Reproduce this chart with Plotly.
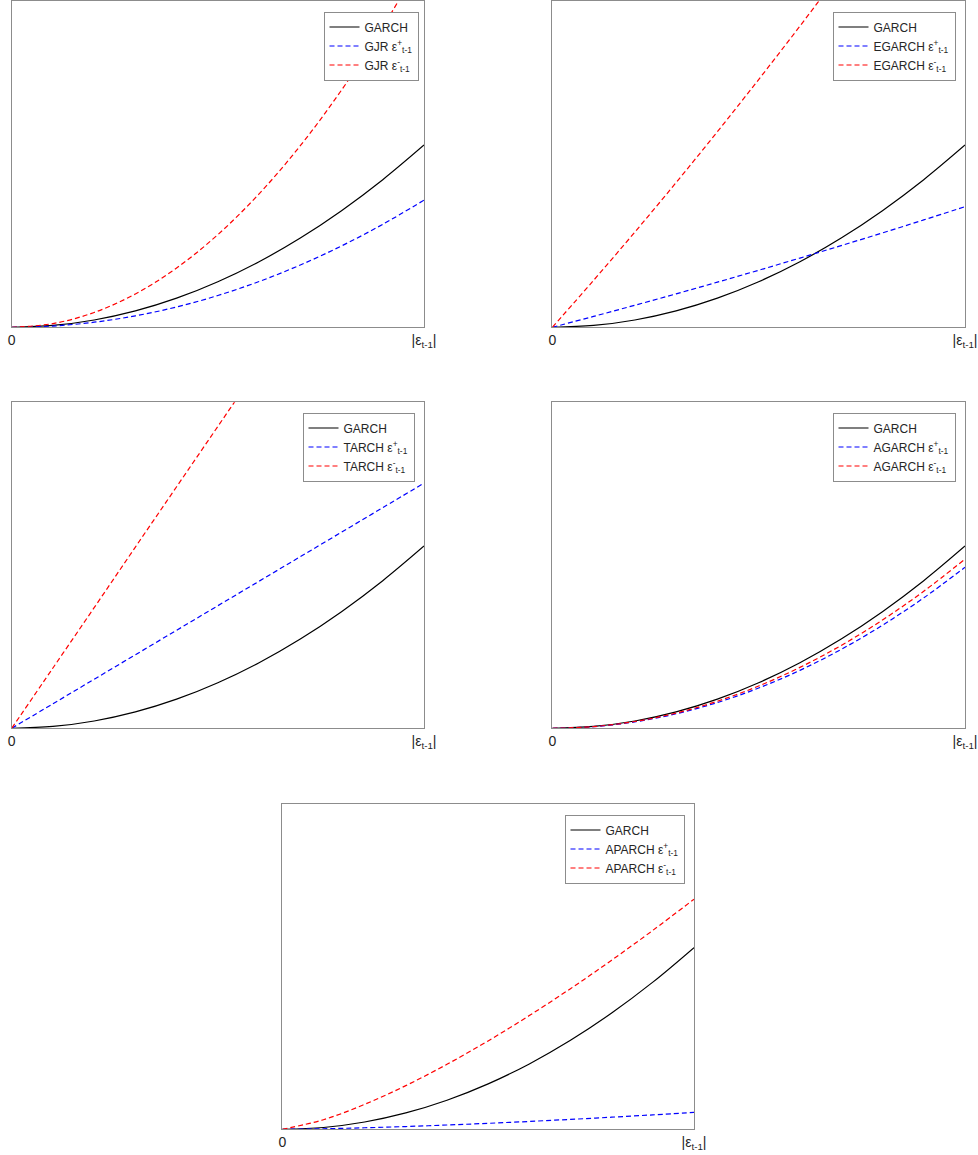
import plotly.graph_objects as go

# ---- data ----
x_vals = [0, 0.1, 0.2, 0.3, 0.4, 0.5, 0.6, 0.7, 0.8, 0.9, 1.0]

garch = [0, 0.0056, 0.0224, 0.0503, 0.0894, 0.1398, 0.2012, 0.2739, 0.3578, 0.4528, 0.559]

gjr_pos = [0, 0.0039, 0.0156, 0.0351, 0.0624, 0.0975, 0.1404, 0.1911, 0.2496, 0.3159, 0.39]
gjr_neg = [0, 0.0114, 0.0455, 0.1023, 0.1819, 0.2843, 0.4093, 0.5571, 0.7277, 0.9210, 1.137]

egarch_pos = [0, 0.0334, 0.0676, 0.1026, 0.1384, 0.175, 0.2124, 0.2506, 0.2896, 0.3294, 0.37]
egarch_neg = [0, 0.144, 0.292, 0.444, 0.600, 0.760, 0.924, 1.092, 1.264, 1.440, 1.620]

tarch_pos = [0, 0.0752, 0.1504, 0.2256, 0.3008, 0.376, 0.4512, 0.5264, 0.6016, 0.6768, 0.752]
tarch_neg = [0, 0.185, 0.370, 0.556, 0.741, 0.926, 1.111, 1.296, 1.482, 1.667, 1.852]

agarch_pos = [0, 0.0049, 0.0198, 0.0445, 0.0790, 0.1235, 0.1778, 0.2421, 0.3162, 0.4001, 0.494]
agarch_neg = [0, 0.0052, 0.0208, 0.0467, 0.0830, 0.1298, 0.1868, 0.2543, 0.3322, 0.4204, 0.519]

aparch_pos = [0, 0.0016, 0.0047, 0.0085, 0.0132, 0.0184, 0.0242, 0.0305, 0.0372, 0.0444, 0.052]
aparch_neg = [0, 0.0295, 0.0768, 0.1344, 0.2000, 0.2720, 0.3500, 0.4328, 0.5204, 0.6122, 0.708]

tick_vals = [0, 1]
tick_text = ["0", "|ε<sub>t-1</sub>|"]

panels = [
    ("GJR", gjr_pos, gjr_neg),
    ("EGARCH", egarch_pos, egarch_neg),
    ("TARCH", tarch_pos, tarch_neg),
    ("AGARCH", agarch_pos, agarch_neg),
    ("APARCH", aparch_pos, aparch_neg),
]

# ---- layout geometry (pixels of the 978x1155 page) ----
W, H = 978, 1155
boxes = [  # left, right, top, bottom (px)
    (11.7, 424.0, 1.3, 327.3),
    (552.3, 965.0, 1.3, 327.3),
    (11.7, 424.0, 402.3, 728.3),
    (552.3, 965.0, 402.3, 728.3),
    (282.3, 694.0, 804.3, 1129.3),
]
legend_pos = [  # right edge, top edge (px)
    (418.5, 11.5),
    (955.5, 11.5),
    (414.5, 412.5),
    (955.5, 412.5),
    (684.5, 814.5),
]

fig = go.Figure()
layout = dict(
    width=W, height=H,
    margin=dict(l=0, r=0, t=0, b=0, autoexpand=False),
    paper_bgcolor="white", plot_bgcolor="white",
    font=dict(family="Liberation Sans, Arial, sans-serif", size=12, color="#262626"),
    showlegend=True,
)

frame = "#8c8c8c"
dash = "5px,3px"
for i, (name, pos, neg) in enumerate(panels):
    k = "" if i == 0 else str(i + 1)
    lg = "legend" if i == 0 else f"legend{i + 1}"
    xa, ya = f"x{k}", f"y{k}"
    fig.add_trace(go.Scatter(x=x_vals, y=garch, mode="lines", name="GARCH",
                             line=dict(color="#000000", width=1.2, shape="spline"),
                             xaxis=xa, yaxis=ya, legend=lg, cliponaxis=True))
    fig.add_trace(go.Scatter(x=x_vals, y=pos, mode="lines",
                             name=f"{name} ε<sup>+</sup><sub>t-1</sub>",
                             line=dict(color="#0000ff", width=1.2, dash=dash, shape="spline"),
                             xaxis=xa, yaxis=ya, legend=lg, cliponaxis=True))
    fig.add_trace(go.Scatter(x=x_vals, y=neg, mode="lines",
                             name=f"{name} ε<sup>-</sup><sub>t-1</sub>",
                             line=dict(color="#ff0000", width=1.2, dash=dash, shape="spline"),
                             xaxis=xa, yaxis=ya, legend=lg, cliponaxis=True))
    l, r, t, b = boxes[i]
    layout[f"xaxis{k}"] = dict(
        domain=[l / W, r / W], range=[0, 1], anchor=ya,
        showline=True, mirror=True, linecolor=frame, linewidth=1,
        showgrid=False, zeroline=False, ticks="", automargin=False,
        tickmode="array", tickvals=tick_vals, ticktext=tick_text,
        tickfont=dict(size=14, color="#262626"), fixedrange=True,
    )
    layout[f"yaxis{k}"] = dict(
        domain=[1 - b / H, 1 - t / H], range=[0, 1], anchor=xa,
        showline=True, mirror=True, linecolor=frame, linewidth=1,
        showgrid=False, zeroline=False, showticklabels=False, ticks="",
        automargin=False, fixedrange=True,
    )
    lr, lt = legend_pos[i]
    layout[lg] = dict(
        x=lr / W, y=1 - lt / H, xanchor="right", yanchor="top",
        bgcolor="white", bordercolor=frame, borderwidth=1,
        font=dict(size=12, color="#262626"),
        tracegroupgap=0, itemwidth=30,
    )

fig.update_layout(**layout)
fig.write_html(
    "out.html",
    config={"displayModeBar": False, "staticPlot": True},
    post_script="document.body.style.margin='0';document.body.style.padding='0';"
                "document.documentElement.style.overflow='hidden';",
)
